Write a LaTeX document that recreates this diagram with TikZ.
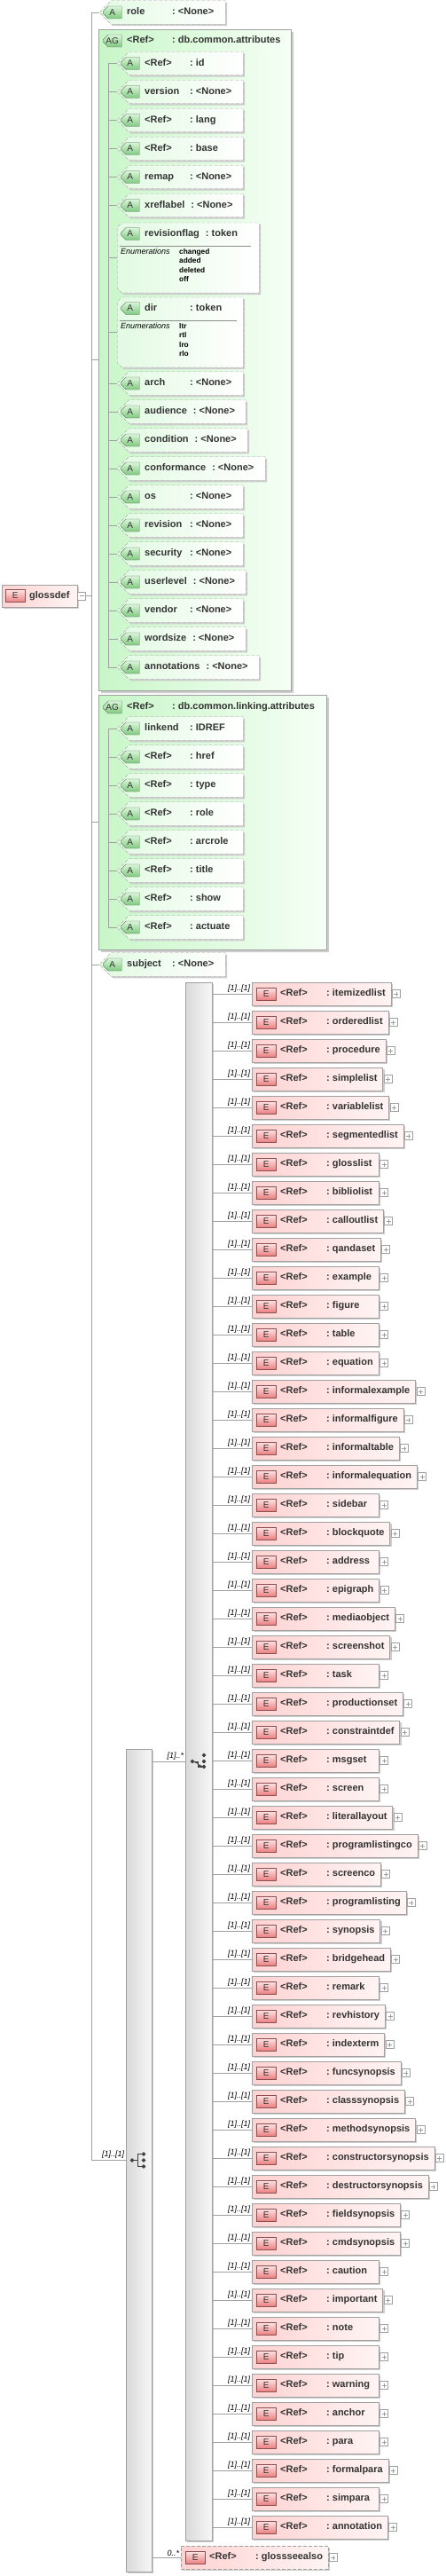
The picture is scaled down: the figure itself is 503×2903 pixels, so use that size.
\documentclass[tikz,border=0pt]{standalone}
\usepackage{fontspec}
\setmainfont{Liberation Sans}
\usetikzlibrary{positioning,shapes.misc,shadows,calc}

\definecolor{attleft}{RGB}{226,250,226}
\definecolor{agleft}{RGB}{200,246,200}
\definecolor{agright}{RGB}{246,255,246}
\definecolor{abtop}{RGB}{218,246,218}
\definecolor{abbot}{RGB}{128,200,128}
\definecolor{abline}{RGB}{80,110,80}
\definecolor{elleft}{RGB}{255,210,210}
\definecolor{elright}{RGB}{255,244,244}
\definecolor{ebtop}{RGB}{255,228,228}
\definecolor{ebbot}{RGB}{236,128,128}
\definecolor{ebline}{RGB}{140,80,80}
\definecolor{linegray}{RGB}{160,160,160}
\definecolor{txtgray}{RGB}{51,51,51}

\newlength\nmwd
\newsavebox\cellbox
% name column of an attribute row
\newcommand\atttxt[2]{\settowidth\nmwd{#1}\ifdim\nmwd<44pt\makebox[44pt][l]{#1}\else#1\fi\hspace{7pt}:\ #2}
% an attribute row inside a chamfered box of width #1 (chamfers take 8pt each side)
\newcommand\attcell[3]{\makebox[\dimexpr#1pt-16pt\relax][l]{\hspace*{23pt}\atttxt{#2}{#3}}}
% an element row, at least 143pt wide
\newcommand\eltxt[1]{\sbox\cellbox{\hspace*{32pt}\makebox[52pt][l]{<Ref>}:\ #1\hspace*{6pt}}\ifdim\wd\cellbox<143pt\makebox[143pt][l]{\usebox\cellbox}\else\usebox\cellbox\fi}

\tikzset{
  txt/.style={text=txtgray, font=\fontsize{11}{13}\selectfont\bfseries, text height=8pt, text depth=2.5pt, inner sep=0pt},
  bus/.style={draw=linegray, line width=0.8pt},
  shadowed/.style={drop shadow={shadow xshift=#1, shadow yshift=-#1, fill=black!20, opacity=1}},
  attbox/.style={chamfered rectangle, chamfered rectangle corners={north west,south west}, chamfered rectangle xsep=8pt, chamfered rectangle ysep=8pt, draw=linegray, dash pattern=on 4pt off 2pt, left color=attleft, right color=white, minimum height=24pt, anchor=west, shadowed=2pt, txt},
  agbox/.style={chamfered rectangle, chamfered rectangle corners={north west,south west}, chamfered rectangle xsep=10pt, chamfered rectangle ysep=10pt, draw=linegray, left color=agleft, right color=agright, inner sep=0pt, anchor=west, shadowed=3pt},
  abadge/.style={chamfered rectangle, chamfered rectangle corners={north west,south west}, chamfered rectangle xsep=3pt, chamfered rectangle ysep=3pt, draw=abline, top color=abtop, bottom color=abbot, minimum width=21pt, minimum height=14pt, inner sep=0pt, text=txtgray, font=\fontsize{10}{10}\selectfont, anchor=west},
  ebadge/.style={rectangle, draw=ebline, top color=ebtop, bottom color=ebbot, minimum width=22pt, minimum height=14pt, inner sep=0pt, text=txtgray, font=\fontsize{10}{10}\selectfont},
  elbox/.style={rectangle, draw=linegray, left color=elleft, right color=elright, minimum height=26pt, anchor=west, shadowed=2pt, txt},
  optelbox/.style={elbox, dash pattern=on 4pt off 2pt},
  compbox/.style={rectangle, draw=linegray, left color=black!15, right color=black!3, inner sep=0pt, anchor=west, shadowed=2pt},
  plusbox/.style={rectangle, draw=linegray, fill=white, minimum size=9pt, inner sep=0pt, path picture={\draw[linegray] ([xshift=2pt]path picture bounding box.west) -- ([xshift=-2pt]path picture bounding box.east) ([yshift=-2pt]path picture bounding box.north) -- ([yshift=2pt]path picture bounding box.south);}},
  minusbox/.style={rectangle, draw=linegray, fill=white, minimum size=9pt, inner sep=0pt, path picture={\draw[linegray] ([xshift=2pt]path picture bounding box.west) -- ([xshift=-2pt]path picture bounding box.east);}},
  mult/.style={font=\fontsize{9}{9}\selectfont\itshape, text=black, inner sep=1.5pt},
  enumlbl/.style={font=\fontsize{9}{10}\selectfont\itshape, text=black, inner sep=0pt, anchor=north west},
  enumval/.style={font=\fontsize{8.3}{10.5}\selectfont\bfseries, text=black, inner sep=0pt, anchor=north west, align=left},
  sepline/.style={draw=black!45, line width=0.8pt},
  icon/.style={fill=black!75, draw=black!75, line width=0.9pt}
}

\begin{document}
\begin{tikzpicture}[x=1pt,y=-1pt]
\useasboundingbox (0,0) rectangle (503,2903);

%Buses
\coordinate (mainbus) at (103,0);
\coordinate (busA) at (122,0);

%glossdef element
\node[elbox, minimum height=25pt] (glossdef) at (2,671.5) {\makebox[85pt][l]{\hspace*{31pt}glossdef}};
\node[ebadge, right=4pt of glossdef.west] (glossdefb) {E};
\node[minusbox, right=0pt of glossdef.east] (glossdefm) {};

%role attribute
\node[attbox, minimum width=142pt] (role) at (112,14) {\attcell{142}{role}{<None>}};
\node[abadge, right=4pt of role.west] (roleb) {A};

%Attribute group: db.common.attributes
\node[agbox, minimum width=217pt, minimum height=745pt] (commonattr) at (111,405.5) {};
\node[abadge] (commonattrb) at (116,46) {AG};
\node[txt, anchor=west] (commonattrt) at (143,46) {\atttxt{<Ref>}{db.common.attributes}};

\foreach \y/\nm/\ty [count=\i] in {71.5/<Ref>/id, 103.5/version/<None>, 135.5/<Ref>/lang, 167.5/<Ref>/base, 199.5/remap/<None>, 231.5/xreflabel/<None>}{
  \node[attbox, minimum width=142pt] (ca\i) at (132,\y) {\attcell{142}{\nm}{\ty}};
  \node[abadge, right=4pt of ca\i.west] (cab\i) {A};
  \draw[bus] (busA |- ca\i.west) -- (ca\i.west);
}

%revisionflag with enumerations
\node[attbox, minimum width=160pt, minimum height=79pt] (revflag) at (132,290.5) {};
\node[abadge] (revflagb) at (136,263.5) {A};
\node[txt, anchor=west] (revflagt) at (163,263.5) {\atttxt{revisionflag}{token}};
\draw[sepline] (135,277) -- (283,277);
\node[enumlbl] (revflage) at (136,280) {Enumerations};
\node[enumval] (revflagv) at (202,280) {changed\\added\\deleted\\off};
\draw[bus] (busA |- revflag.west) -- (revflag.west);

%dir with enumerations
\node[attbox, minimum width=142pt, minimum height=79pt] (dir) at (132,374.5) {};
\node[abadge] (dirb) at (136,347.5) {A};
\node[txt, anchor=west] (dirt) at (163,347.5) {\atttxt{dir}{token}};
\draw[sepline] (135,361) -- (267,361);
\node[enumlbl] (dire) at (136,364) {Enumerations};
\node[enumval] (dirv) at (202,364) {ltr\\rtl\\lro\\rlo};
\draw[bus] (busA |- dir.west) -- (dir.west);

\foreach \y/\nm/\ty/\w [count=\i] in {432/arch/<None>/142, 464/audience/<None>/145, 496/condition/<None>/147, 528/conformance/<None>/167, 560/os/<None>/142, 592/revision/<None>/142, 624/security/<None>/142, 656/userlevel/<None>/145, 688/vendor/<None>/142, 720/wordsize/<None>/145, 752/annotations/<None>/160}{
  \node[attbox, minimum width=\w pt] (cc\i) at (132,\y) {\attcell{\w}{\nm}{\ty}};
  \node[abadge, right=4pt of cc\i.west] (ccb\i) {A};
  \draw[bus] (busA |- cc\i.west) -- (cc\i.west);
}
\draw[bus] (busA |- ca1.west) -- (busA |- cc11.west);

%Attribute group: db.common.linking.attributes
\node[agbox, minimum width=257pt, minimum height=287pt] (linkattr) at (111,926.5) {};
\node[abadge] (linkattrb) at (116,797) {AG};
\node[txt, anchor=west] (linkattrt) at (143,797) {\atttxt{<Ref>}{db.common.linking.attributes}};

\foreach \y/\nm/\ty [count=\i] in {821/linkend/IDREF, 853/<Ref>/href, 885/<Ref>/type, 917/<Ref>/role, 949/<Ref>/arcrole, 981/<Ref>/title, 1013/<Ref>/show, 1045/<Ref>/actuate}{
  \node[attbox, minimum width=142pt] (la\i) at (132,\y) {\attcell{142}{\nm}{\ty}};
  \node[abadge, right=4pt of la\i.west] (lab\i) {A};
  \draw[bus] (busA |- la\i.west) -- (la\i.west);
}
\draw[bus] (busA |- la1.west) -- (busA |- la8.west);

%subject attribute
\node[attbox, minimum width=142pt] (subject) at (112,1087) {\attcell{142}{subject}{<None>}};
\node[abadge, right=4pt of subject.west] (subjectb) {A};

%Compositors
\node[compbox, minimum width=30pt, minimum height=1756pt] (choice) at (209,1985) {};
\node[compbox, minimum width=29pt, minimum height=927pt] (seq) at (142,2434.5) {};

\begin{scope}[shift={(seq.west)}]
  \draw[icon] (7,0) -- (13,0) (13,-7) -- (13,7) (13,-7) -- (20,-7) (13,7) -- (20,7);
  \fill[icon] (7,0) circle (1.8pt) (20,-7) circle (1.8pt) (20,0) circle (1.8pt) (20,7) circle (1.8pt);
\end{scope}
\begin{scope}[shift={(choice.west)}]
  \draw[icon] (8,0) -- (14,0) -- (14,6) -- (21,6);
  \fill[icon] (8,0) circle (1.8pt) (21,-7) circle (1.8pt) (21,0) circle (1.8pt) (21,6) circle (1.8pt);
\end{scope}

%Links from the main bus
\draw[bus] (mainbus |- role.west) -- (mainbus |- seq.west);
\foreach \nd in {role,commonattr,linkattr,subject}
  \draw[bus] (mainbus |- \nd.west) -- (\nd.west);
\draw[bus] (glossdefm.east) -- (mainbus |- glossdefm.east);
\draw[bus] (mainbus |- seq.west) -- (seq.west) node[mult, above left]{[1]..[1]};
\draw[bus] (seq.east |- choice.west) -- (choice.west) node[mult, above left]{[1]..*};

%Choice of block elements
\foreach \nm [count=\i] in {itemizedlist, orderedlist, procedure, simplelist, variablelist, segmentedlist, glosslist, bibliolist, calloutlist, qandaset, example, figure, table, equation, informalexample, informalfigure, informaltable, informalequation, sidebar, blockquote, address, epigraph, mediaobject, screenshot, task, productionset, constraintdef, msgset, screen, literallayout, programlistingco, screenco, programlisting, synopsis, bridgehead, remark, revhistory, indexterm, funcsynopsis, classsynopsis, methodsynopsis, constructorsynopsis, destructorsynopsis, fieldsynopsis, cmdsynopsis, caution, important, note, tip, warning, anchor, para, formalpara, simpara, annotation}{
  \node[elbox] (e\i) at (284,{1088+32*\i}) {\eltxt{\nm}};
  \node[ebadge, right=5pt of e\i.west] (eb\i) {E};
  \node[plusbox, right=1pt of e\i.east] (ep\i) {};
  \draw[bus] (choice.east |- e\i.west) -- (e\i.west) node[mult, above left]{[1]..[1]};
}

%glossseealso
\node[optelbox] (seealso) at (204,2882) {\eltxt{glossseealso}};
\node[ebadge, right=5pt of seealso.west] (seealsob) {E};
\node[plusbox, right=1pt of seealso.east] (seealsop) {};
\draw[bus] (seq.east |- seealso.west) -- (seealso.west) node[mult, above left]{0..*};

\end{tikzpicture}
\end{document}
